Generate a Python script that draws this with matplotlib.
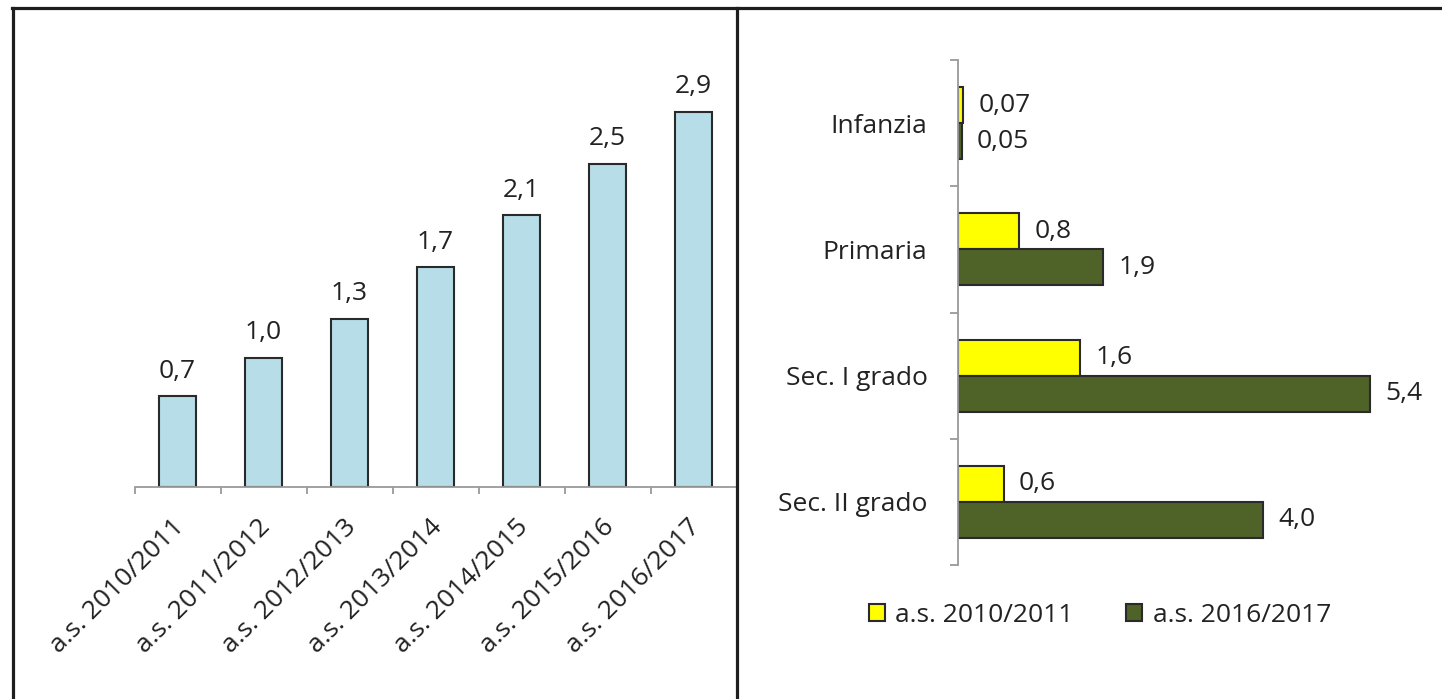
import numpy as np
import matplotlib
matplotlib.use("Agg")
import matplotlib.pyplot as plt
from matplotlib.lines import Line2D
from matplotlib.transforms import ScaledTranslation

plt.rcParams['font.family'] = ['Open Sans', 'DejaVu Sans']

# left chart: yearly values
anni = ["a.s. 2010/2011", "a.s. 2011/2012", "a.s. 2012/2013", "a.s. 2013/2014",
        "a.s. 2014/2015", "a.s. 2015/2016", "a.s. 2016/2017"]
valori = [0.7, 1.0, 1.3, 1.7, 2.1, 2.5, 2.9]

# right chart: school levels, two school years
ordini = ["Infanzia", "Primaria", "Sec. I grado", "Sec. II grado"]
val_2010 = [0.07, 0.8, 1.6, 0.6]
val_2016 = [0.05, 1.9, 5.4, 4.0]
legenda = ["a.s. 2010/2011", "a.s. 2016/2017"]


def fmt(v):
    s = f"{v:.2f}" if v < 0.1 else f"{v:.1f}"
    return s.replace(".", ",")


W, H = 1442, 699
fig = plt.figure(figsize=(W / 100, H / 100), dpi=100)
fs = 19
txt = "#222222"
axis_col = "#9a9a9a"
edge = "#2a2a2a"

# ---- left: vertical bars
ax1 = fig.add_axes([134.5 / W, 1 - 487 / H, 602 / W, 447 / H])
x = np.arange(len(anni))
ax1.bar(x, valori, width=0.43, color="#b7dde8", edgecolor=edge, linewidth=1.5)
for xi, v in zip(x, valori):
    ax1.annotate(fmt(v), (xi, v), xytext=(0, 9), textcoords="offset points",
                 ha="center", va="bottom", fontsize=fs, color=txt)
ax1.set_xlim(-0.5, len(anni) - 0.5)
ax1.set_ylim(0, 2.9 * 447 / 375)
for s in ["top", "right", "left"]:
    ax1.spines[s].set_visible(False)
ax1.spines["bottom"].set_color(axis_col)
ax1.spines["bottom"].set_linewidth(1.3)
ax1.set_yticks([])
ax1.set_xticks(x)
ax1.set_xticklabels(anni, rotation=45, ha="right", fontsize=fs, color=txt)
ax1.set_xticks(np.arange(-0.5, len(anni)), minor=True)
ax1.tick_params(axis="x", which="major", length=0, pad=20)
ax1.tick_params(axis="x", which="minor", length=5, width=1.3, color=axis_col)
shift = ScaledTranslation(12 / 100, 0, fig.dpi_scale_trans)
for lab in ax1.get_xticklabels():
    lab.set_transform(lab.get_transform() + shift)

# ---- right: horizontal grouped bars
ax2 = fig.add_axes([958 / W, 1 - 565 / H, 472 / W, 505 / H])
y = np.arange(len(ordini))
h = 0.285
ax2.barh(y - h / 2, val_2010, height=h, color="#ffff00", edgecolor=edge,
         linewidth=1.5, label=legenda[0])
ax2.barh(y + h / 2, val_2016, height=h, color="#4f6228", edgecolor=edge,
         linewidth=1.5, label=legenda[1])
for yi, a, b in zip(y, val_2010, val_2016):
    ax2.annotate(fmt(a), (a, yi - h / 2), xytext=(11, 0), textcoords="offset points",
                 ha="left", va="center", fontsize=fs, color=txt)
    ax2.annotate(fmt(b), (b, yi + h / 2), xytext=(11, 0), textcoords="offset points",
                 ha="left", va="center", fontsize=fs, color=txt)
ax2.set_xlim(0, 472 / 76.3)
ax2.set_ylim(len(ordini) - 0.5, -0.5)
for s in ["top", "right", "bottom"]:
    ax2.spines[s].set_visible(False)
ax2.spines["left"].set_color(axis_col)
ax2.spines["left"].set_linewidth(1.3)
ax2.set_xticks([])
ax2.set_yticks(y)
ax2.set_yticklabels(ordini, fontsize=fs, color=txt)
ax2.set_yticks(np.arange(-0.5, len(ordini)), minor=True)
ax2.tick_params(axis="y", which="major", length=0, pad=22)
ax2.tick_params(axis="y", which="minor", length=6, width=1.3, color=axis_col)

fig.legend(loc="center", bbox_to_anchor=(1100 / W, 1 - 615 / H), ncol=2,
           frameon=False, fontsize=fs, handlelength=0.6, handleheight=0.6,
           handletextpad=0.4, columnspacing=2.0, labelcolor=txt)

# panel borders
bc = "#1e1e1e"
fig.add_artist(Line2D([13 / W, 13 / W], [0, 1 - 8 / H], transform=fig.transFigure,
                      color=bc, linewidth=2.3))
fig.add_artist(Line2D([12 / W, 1], [1 - 8 / H, 1 - 8 / H], transform=fig.transFigure,
                      color=bc, linewidth=2.3))
fig.add_artist(Line2D([737 / W, 737 / W], [0, 1 - 8 / H], transform=fig.transFigure,
                      color=bc, linewidth=2.3))

fig.savefig("out.png", dpi=100)
